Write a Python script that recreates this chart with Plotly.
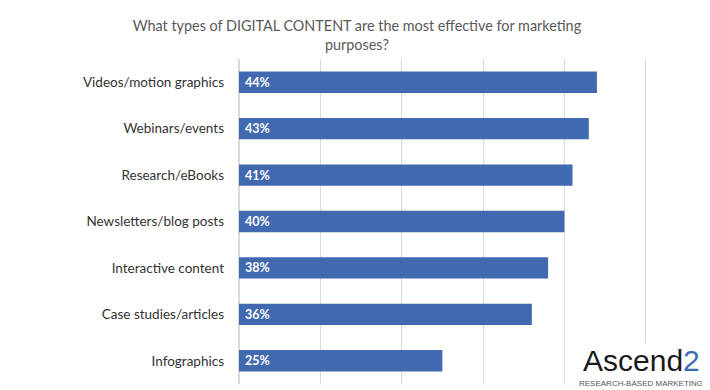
import plotly.graph_objects as go

categories = ["Videos/motion graphics", "Webinars/events", "Research/eBooks",
              "Newsletters/blog posts", "Interactive content", "Case studies/articles",
              "Infographics"]
values = [44, 43, 41, 40, 38, 36, 25]
labels = ["\u00a0" + f"{v}%" for v in values]

title = "What types of DIGITAL CONTENT are the most effective for marketing<br>purposes?"

fig = go.Figure(go.Bar(
    y=categories, x=values, orientation="h",
    marker=dict(color="#4169B0", line=dict(width=0)),
    width=0.46,
    text=labels, textposition="inside", insidetextanchor="start",
    textfont=dict(family="Lato", size=12.5, color="white", weight="bold"),
    cliponaxis=False,
))

# page body has an 8px margin, so the figure is 8px smaller than the window
fig.update_layout(
    width=702, height=382,
    margin=dict(l=231, r=0, t=51, b=6),
    paper_bgcolor="white", plot_bgcolor="white",
    showlegend=False,
    title=dict(text=title, x=0.497, xanchor="center", y=0.94, yanchor="middle",
               font=dict(family="Lato", size=14.4, color="#595959")),
    xaxis=dict(range=[0, 57.9], dtick=10, showticklabels=False, showgrid=True,
               gridcolor="#d9d9d9", gridwidth=1, zeroline=True, zerolinecolor="#d9d9d9",
               fixedrange=True),
    yaxis=dict(autorange="reversed", ticks="", ticklabelstandoff=14,
               tickfont=dict(family="Lato", size=13.5, color="#333333"), showgrid=False),
    font=dict(family="Lato"),
)

fig.add_annotation(x=1.0, y=0.0, xref="paper", yref="paper", xanchor="right", yanchor="bottom",
                   xshift=-5, yshift=-6,
                   text="RESEARCH-BASED MARKETING",
                   showarrow=False, bgcolor="white", borderpad=1,
                   font=dict(family="Liberation Sans", size=8, color="#555555"))
fig.add_annotation(x=1.0, y=0.0, xref="paper", yref="paper", xanchor="right", yanchor="bottom",
                   xshift=-9, yshift=6,
                   text="Ascend<span style='color:#3C6EB4'>2</span>",
                   showarrow=False, bgcolor="white", borderpad=0,
                   font=dict(family="Liberation Sans", size=30, color="#1a1a1a"))

fig.write_html("out.html")
